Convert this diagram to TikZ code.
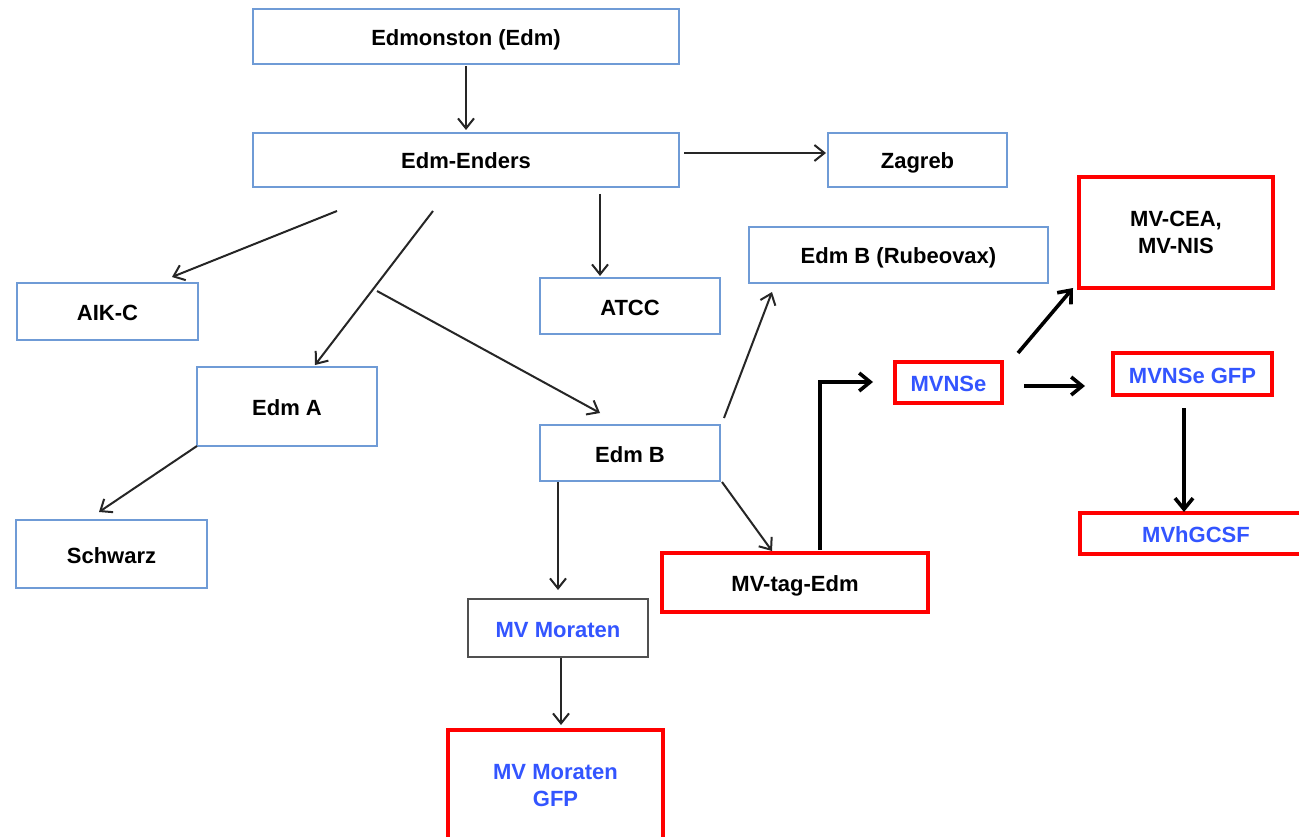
\documentclass[tikz,border=0pt]{standalone}
\usepackage{fontspec}
\setmainfont{Liberation Sans}
\usetikzlibrary{arrows.meta}
\definecolor{boxblue}{HTML}{6F9BD6}
\definecolor{txtblue}{HTML}{3355FF}
\definecolor{boxred}{HTML}{FF0000}
\definecolor{boxgray}{HTML}{505050}
\begin{document}
\begin{tikzpicture}[x=1pt,y=-1pt,
  box/.style={rectangle, inner sep=0pt, align=center,
    font=\fontsize{22}{27}\selectfont\bfseries},
  oneline/.style={text height=18pt, text depth=0pt},
  bluebox/.style={box, oneline, draw=boxblue, line width=2pt},
  redbox/.style={box, draw=boxred, line width=4pt},
  redone/.style={redbox, oneline},
  graybox/.style={box, oneline, draw=boxgray, line width=2.2pt},
  bluetext/.style={text=txtblue},
  arr/.style={draw=black!85, line width=2pt, -{Straight Barb[length=10pt,width=16pt]}},
  thickarr/.style={draw=black, line width=3.6pt, -{Straight Barb[length=11pt,width=18pt]}},
]
\clip (0,0) rectangle (1299,837);
\fill[white] (0,0) rectangle (1299,837);

% nodes
\node[bluebox, minimum width=426pt, minimum height=55pt] (edm) at (466,36.5) {Edmonston (Edm)};
\node[bluebox, minimum width=426pt, minimum height=54pt] (enders) at (466,160) {Edm-Enders};
\node[bluebox, minimum width=179pt, minimum height=54pt] (zagreb) at (917.5,160) {Zagreb};
\node[redbox, minimum width=194pt, minimum height=111pt] (mvcea) at (1176,232.5) {MV-CEA,\\MV-NIS};
\node[bluebox, minimum width=299pt, minimum height=56pt] (rubeo) at (898.5,255) {Edm B (Rubeovax)};
\node[bluebox, minimum width=181pt, minimum height=57pt] (aikc) at (107.5,311.5) {AIK-C};
\node[bluebox, minimum width=180pt, minimum height=56pt] (atcc) at (630,306) {ATCC};
\node[bluebox, minimum width=180pt, minimum height=79pt] (edma) at (287,406.5) {Edm A};
\node[bluebox, minimum width=180pt, minimum height=56pt] (edmb) at (630,453) {Edm B};
\node[redone, bluetext, minimum width=107pt, minimum height=41pt] (mvnse) at (948.5,382.5) {MVNSe};
\node[redone, bluetext, minimum width=159pt, minimum height=42pt] (gfp) at (1192.5,374) {MVNSe GFP};
\node[redone, bluetext, minimum width=232pt, minimum height=41pt] (hgcsf) at (1196,533.5) {MVhGCSF};
\node[bluebox, minimum width=191pt, minimum height=68pt] (schwarz) at (111.5,554) {Schwarz};
\node[redone, minimum width=266pt, minimum height=59pt] (mvtag) at (795,582.5) {MV-tag-Edm};
\node[graybox, bluetext, minimum width=180pt, minimum height=58pt] (moraten) at (558,628) {MV Moraten};
\node[redbox, bluetext, minimum width=215pt, minimum height=112pt] (mgfp) at (555.5,786) {MV Moraten\\GFP};

% connector end points
\coordinate (pZs) at (684,153);   \coordinate (pZe) at (826,153);
\coordinate (pAs) at (337,211);   \coordinate (pAe) at (172,277);
\coordinate (pEAs) at (433,211);  \coordinate (pEAe) at (315,365);
\coordinate (pTs) at (600,194);   \coordinate (pTe) at (600,276);
\coordinate (pEBs) at (377,291);  \coordinate (pEBe) at (600,413);
\coordinate (pSs) at (197,446);   \coordinate (pSe) at (99,512);
\coordinate (pMs) at (558,482);   \coordinate (pMe) at (558,590);
\coordinate (pGs) at (561,658);   \coordinate (pGe) at (561,725);
\coordinate (pTgs) at (722,482);  \coordinate (pTge) at (772,551);
\coordinate (pRs) at (724,418);   \coordinate (pRe) at (772,292);
\coordinate (pNs) at (820,550);   \coordinate (pNc) at (820,382);  \coordinate (pNe) at (873,382);
\coordinate (pCs) at (1018,353);  \coordinate (pCe) at (1073,288);
\coordinate (pFs) at (1024,386);  \coordinate (pFe) at (1085,386);
\coordinate (pHs) at (1184,408);  \coordinate (pHe) at (1184,512);

% connectors
\draw[arr, shorten <=1pt, shorten >=2pt] (edm) -- (enders);
\draw[arr] (pZs) -- (pZe);
\draw[arr] (pAs) -- (pAe);
\draw[arr] (pEAs) -- (pEAe);
\draw[arr] (pTs) -- (pTe);
\draw[arr] (pEBs) -- (pEBe);
\draw[arr] (pSs) -- (pSe);
\draw[arr] (pMs) -- (pMe);
\draw[arr] (pGs) -- (pGe);
\draw[arr] (pTgs) -- (pTge);
\draw[arr] (pRs) -- (pRe);
\draw[thickarr] (pNs) -- (pNc) -- (pNe);
\draw[thickarr] (pCs) -- (pCe);
\draw[thickarr] (pFs) -- (pFe);
\draw[thickarr] (pHs) -- (pHe);
\end{tikzpicture}
\end{document}
